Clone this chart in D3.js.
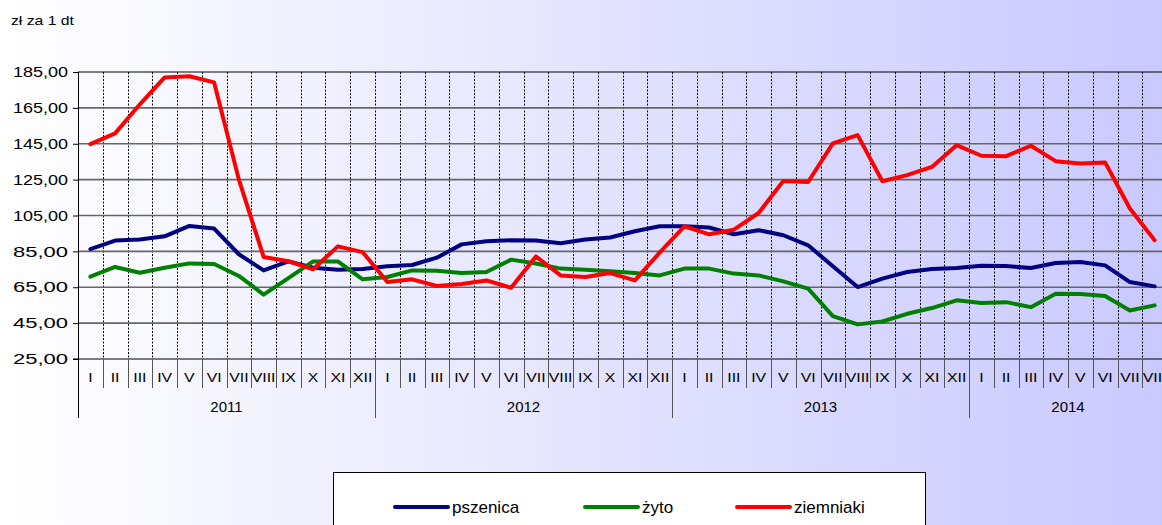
<!DOCTYPE html>
<html><head><meta charset="utf-8">
<script src="https://cdn.jsdelivr.net/npm/d3@7"></script>
<style>
html,body{margin:0;padding:0;overflow:hidden;}
svg{display:block;font-family:"Liberation Sans",Arial,sans-serif;}
</style></head>
<body>
<svg id="chart" width="1162" height="525"></svg>
<script>
const years = ["2011","2012","2013","2014"];
const monthsPerYear = [12,12,12,8];
const monthNames = ["I","II","III","IV","V","VI","VII","VIII","IX","X","XI","XII"];
const yTicks = [25,45,65,85,105,125,145,165,185];
const seriesNames = ["pszenica","żyto","ziemniaki"];
const seriesColors = ["#000080","#008000","#ff0000"];

const pszenica = [86.3,91.0,91.6,93.4,99.2,97.7,83.4,74.4,79.4,75.9,74.8,75.2,
  76.7,77.4,81.5,88.9,90.6,91.2,91.0,89.5,91.6,92.7,96.2,99.0,
  99.0,98.3,94.5,96.8,94.0,88.4,76.7,65.1,69.8,73.5,75.2,75.7,
  77.0,76.8,75.7,78.5,79.1,77.2,67.9,65.5];
const zyto = [70.9,76.3,73.1,75.9,78.3,78.0,71.3,60.9,70.1,79.4,79.4,69.4,
  70.7,74.4,74.2,72.9,73.5,80.4,78.2,75.4,74.8,73.9,72.9,71.6,
  75.4,75.4,72.6,71.6,68.3,64.2,48.9,44.3,45.9,50.2,53.4,57.7,
  56.2,56.7,53.9,61.4,61.2,60.1,52.0,54.9];
const ziemniaki = [144.8,150.8,167.0,182.0,182.6,179.2,125.0,81.9,79.5,75.0,87.8,84.6,
  67.9,69.4,65.7,66.8,68.8,64.7,82.2,71.6,70.7,72.9,68.8,84.3,
  99.0,94.5,97.1,106.4,124.3,123.7,145.2,149.8,124.1,127.5,132.1,144.2,
  138.3,138.1,143.9,135.3,134.0,134.6,108.9,91.2];
const seriesValues = [pszenica, zyto, ziemniaki];

const svg = d3.select("#chart");
const W = 1162, H = 525;

// background gradient
const defs = svg.append("defs");
const grad = defs.append("linearGradient").attr("id","bg").attr("x1","0").attr("y1","0").attr("x2","1").attr("y2","0");
grad.append("stop").attr("offset","0").attr("stop-color","#ffffff");
grad.append("stop").attr("offset","1").attr("stop-color","#c9c9ff");
svg.append("rect").attr("width",W).attr("height",H).attr("fill","url(#bg)");

const nMonths = d3.sum(monthsPerYear);
const left = 78, colW = 24.75;
const x = d3.scaleLinear().domain([0,nMonths]).range([left, left + nMonths*colW]);
const y = d3.scaleLinear().domain([25,185]).range([359,72]);
const right = x(nMonths);

// unit label
svg.append("text").attr("x",11).attr("y",25).attr("font-size",13).attr("fill","#000")
  .attr("textLength",63).attr("lengthAdjust","spacingAndGlyphs").text("zł za 1 dt");

// vertical dashed grid
const vIdx = d3.range(1,nMonths+1);
svg.append("g").selectAll("line").data(vIdx).join("line")
  .attr("x1",d=>Math.round(x(d))+0.5).attr("x2",d=>Math.round(x(d))+0.5)
  .attr("y1",y(185)).attr("y2",y(25))
  .attr("stroke","#000").attr("stroke-width",1).attr("stroke-dasharray","2,1.5");

// horizontal grid
svg.append("g").selectAll("line").data(yTicks.filter(v=>v!==25)).join("line")
  .attr("x1",left).attr("x2",right)
  .attr("y1",d=>y(d)).attr("y2",d=>y(d))
  .attr("stroke",d=>d===185?"#000":"#666")
  .attr("stroke-width",d=>d===185?1.2:1.6);

// y axis
const fmt = v => d3.format(".2f")(v).replace(".",",");
const yAxis = d3.axisLeft(y).tickValues(yTicks).tickFormat(fmt).tickSize(5).tickPadding(3);
const yg = svg.append("g").attr("transform",`translate(${left},0)`).call(yAxis);
yg.select(".domain").remove();
yg.selectAll(".tick line").attr("stroke","#000");
yg.selectAll(".tick text").attr("font-size",14.5).attr("fill","#000")
  .attr("font-family","'Liberation Sans',Arial,sans-serif")
  .attr("textLength",55).attr("lengthAdjust","spacingAndGlyphs").attr("dx",-2);

// baseline (25) and left axis line
svg.append("line").attr("x1",left-5).attr("x2",right).attr("y1",y(25)).attr("y2",y(25)).attr("stroke","#000").attr("stroke-width",1.2);
svg.append("line").attr("x1",left+0.5).attr("x2",left+0.5).attr("y1",y(185)).attr("y2",418).attr("stroke","#000").attr("stroke-width",1);

// month labels & separators
const monthList = [];
let idx = 0;
years.forEach((yr,yi)=>{
  for(let m=0;m<monthsPerYear[yi];m++){ monthList.push({i:idx, name:monthNames[m], year:yr, first:m===0}); idx++; }
});
const xg = svg.append("g");
xg.selectAll("line.sep").data(monthList.filter(d=>!d.first)).join("line")
  .attr("x1",d=>Math.round(x(d.i))+0.5).attr("x2",d=>Math.round(x(d.i))+0.5)
  .attr("y1",y(25)).attr("y2",388).attr("stroke","#555").attr("stroke-width",1);
xg.selectAll("text.m").data(monthList).join("text")
  .attr("transform",d=>`translate(${x(d.i+0.5)},382) scale(1.22,1)`).attr("text-anchor","middle")
  .attr("font-size",13).attr("fill","#000").text(d=>d.name);

// year separators & labels
let start = 0;
const yearData = years.map((yr,yi)=>{ const d={year:yr,start:start,n:monthsPerYear[yi]}; start+=monthsPerYear[yi]; return d; });
xg.selectAll("line.yr").data(yearData.filter(d=>d.start>0)).join("line")
  .attr("x1",d=>Math.round(x(d.start))+0.5).attr("x2",d=>Math.round(x(d.start))+0.5)
  .attr("y1",y(25)).attr("y2",418).attr("stroke","#555").attr("stroke-width",1);
xg.selectAll("text.yr").data(yearData).join("text")
  .attr("x",d=>x(d.start + d.n/2)).attr("y",412).attr("text-anchor","middle")
  .attr("font-size",15).attr("fill","#000").text(d=>d.year);

// series lines
const line = d3.line().x((d,i)=>x(i+0.5)).y(d=>y(d));
seriesValues.forEach((vals,si)=>{
  svg.append("path").datum(vals).attr("d",line)
    .attr("fill","none").attr("stroke",seriesColors[si]).attr("stroke-width",4)
    .attr("stroke-linejoin","round").attr("stroke-linecap","round");
});

// legend
const lg = svg.append("g");
lg.append("rect").attr("x",333.5).attr("y",472.5).attr("width",592).attr("height",70)
  .attr("fill","#fff").attr("stroke","#000").attr("stroke-width",1);
const legX = [395,585,737];
seriesNames.forEach((n,i)=>{
  lg.append("line").attr("x1",legX[i]).attr("x2",legX[i]+53).attr("y1",507).attr("y2",507)
    .attr("stroke",seriesColors[i]).attr("stroke-width",4).attr("stroke-linecap","round");
  lg.append("text").attr("x",legX[i]+57).attr("y",513).attr("font-size",17).attr("fill","#000").text(n);
});
</script>
</body></html>
